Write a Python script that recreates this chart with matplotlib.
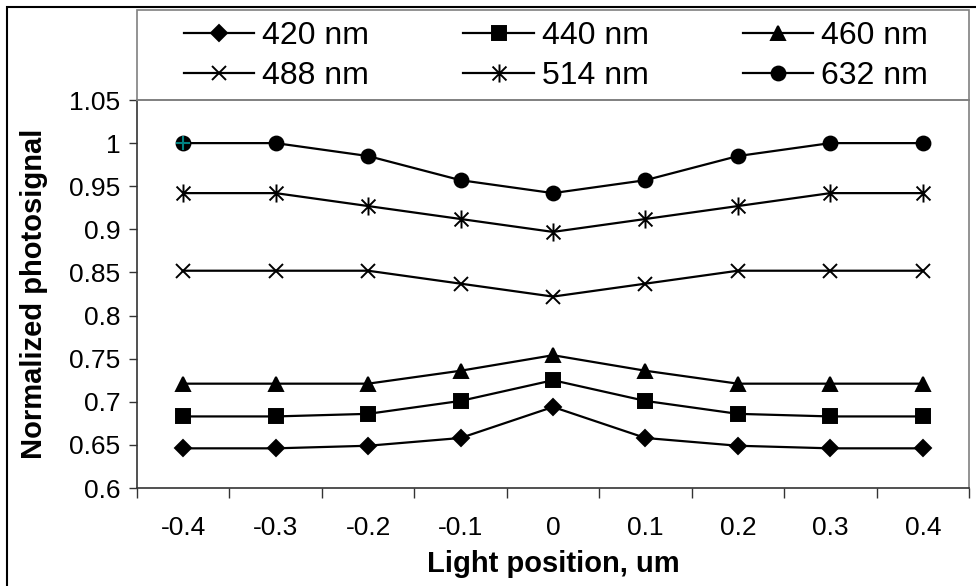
import numpy as np
import matplotlib
matplotlib.use("Agg")
import matplotlib.pyplot as plt
from matplotlib.path import Path
from matplotlib.patches import Rectangle

plt.rcParams['font.family'] = ['Liberation Sans', 'DejaVu Sans']

# data
positions = ['-0.4', '-0.3', '-0.2', '-0.1', '0', '0.1', '0.2', '0.3', '0.4']
s420 = [0.646, 0.646, 0.649, 0.658, 0.694, 0.658, 0.649, 0.646, 0.646]
s440 = [0.683, 0.683, 0.686, 0.701, 0.725, 0.701, 0.686, 0.683, 0.683]
s460 = [0.721, 0.721, 0.721, 0.736, 0.754, 0.736, 0.721, 0.721, 0.721]
s488 = [0.852, 0.852, 0.852, 0.837, 0.822, 0.837, 0.852, 0.852, 0.852]
s514 = [0.942, 0.942, 0.927, 0.912, 0.897, 0.912, 0.927, 0.942, 0.942]
s632 = [1.0, 1.0, 0.985, 0.957, 0.942, 0.957, 0.985, 1.0, 1.0]
labels = ['420 nm', '440 nm', '460 nm', '488 nm', '514 nm', '632 nm']
yticks = [0.6, 0.65, 0.7, 0.75, 0.8, 0.85, 0.9, 0.95, 1.0, 1.05]
ytick_labels = ['0.6', '0.65', '0.7', '0.75', '0.8', '0.85', '0.9', '0.95', '1', '1.05']

# excel style asterisk: x with a vertical bar
star = Path([(-1, -1), (1, 1), (-1, 1), (1, -1), (0, -1.3), (0, 1.3)],
            [Path.MOVETO, Path.LINETO, Path.MOVETO, Path.LINETO, Path.MOVETO, Path.LINETO])

fig = plt.figure(figsize=(9.76, 5.86), dpi=100)
ax = fig.add_axes([137/976, 1 - 488/586, (969-137)/976, (488-100)/586])

x = np.arange(len(positions))
series = [s420, s440, s460, s488, s514, s632]
markers = ['D', 's', '^', 'x', star, 'o']
msizes = [8, 9.5, 10.5, 10, 13, 10]
lines = []
for vals, lab, m, ms in zip(series, labels, markers, msizes):
    ln, = ax.plot(x, vals, color='black', lw=1.6, marker=m, ms=ms,
                  mew=1.4, mfc='black', mec='black', label=lab)
    lines.append(ln)

# small teal cross on the first 632 point
ax.plot(x[0], s632[0], marker='+', ms=10, mew=1.5, color='#008080', ls='none')

ax.set_xlim(-0.5, len(positions) - 0.5)
ax.set_ylim(0.6, 1.05)
ax.set_yticks(yticks)
ax.set_yticklabels(ytick_labels)
ax.set_xticks(np.arange(-0.5, len(positions)), minor=False)
ax.set_xticklabels([])
ax.set_xticks(x, minor=True)
ax.set_xticklabels(positions, minor=True)
ax.tick_params(axis='x', which='major', direction='out', length=7, width=1, color='#333333')
ax.tick_params(axis='x', which='minor', length=0, pad=20, labelsize=19)
ax.tick_params(axis='y', direction='out', length=6, width=1, color='#333333', pad=6, labelsize=19)

for side in ['left', 'bottom']:
    ax.spines[side].set_color('#333333')
    ax.spines[side].set_linewidth(1.2)
for side in ['top', 'right']:
    ax.spines[side].set_color('#808080')
    ax.spines[side].set_linewidth(1.2)

ax.set_xlabel('Light position, um', fontsize=21, fontweight='bold', labelpad=7)
ax.set_ylabel('Normalized photosignal', fontsize=21, fontweight='bold', labelpad=15)

# legend box above the plot, rows: 420/440/460 then 488/514/632
box_l, box_b = 137/976, 1 - 100/586
box_w, box_h = (969-137)/976, 90/586
fig.patches.append(Rectangle((box_l, box_b), box_w, box_h, transform=fig.transFigure,
                             fill=False, edgecolor='#808080', lw=1.2))
order = [0, 3, 1, 4, 2, 5]
leg = fig.legend([lines[i] for i in order], [labels[i] for i in order],
                 ncol=3, loc='center',
                 bbox_to_anchor=(box_l + box_w/2 + 3/976, box_b + box_h/2 - 1/586),
                 fontsize=23, frameon=False, borderaxespad=0,
                 handlelength=2.2, handletextpad=0.25, labelspacing=0.3,
                 columnspacing=2.95)

# outer chart border
fig.patches.append(Rectangle((7/976, -0.05), 1.1, 1 - 7/586 + 0.05,
                             transform=fig.transFigure, fill=False,
                             edgecolor='black', lw=1.5))

fig.savefig('out.png', dpi=100)
